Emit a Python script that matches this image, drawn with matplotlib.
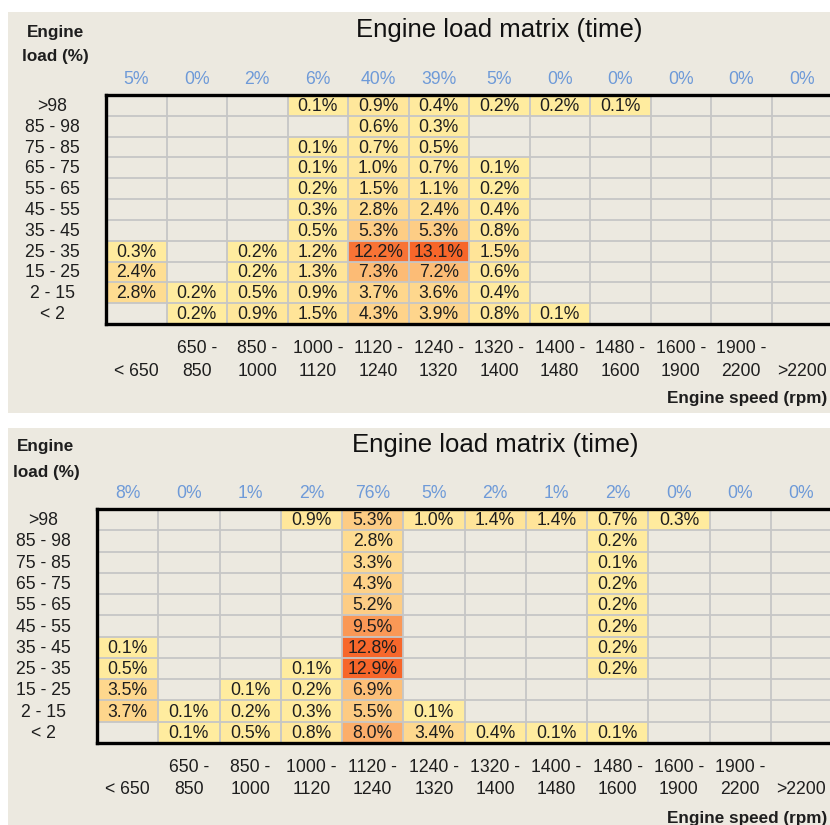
import numpy as np
import matplotlib
matplotlib.use("Agg")
import matplotlib.pyplot as plt
from matplotlib.colors import LinearSegmentedColormap, Normalize
from matplotlib.patches import Rectangle
import matplotlib.transforms as mtransforms

plt.rcParams['font.family'] = ['Liberation Sans', 'DejaVu Sans']

# ---- data -----------------------------------------------------------------
load_bins = [">98", "85 - 98", "75 - 85", "65 - 75", "55 - 65", "45 - 55",
             "35 - 45", "25 - 35", "15 - 25", "2 - 15", "< 2"]
speed_bins_top = ["", "650 -", "850 -", "1000 -", "1120 -", "1240 -", "1320 -",
                  "1400 -", "1480 -", "1600 -", "1900 -", ""]
speed_bins_bottom = ["< 650", "850", "1000", "1120", "1240", "1320", "1400",
                     "1480", "1600", "1900", "2200", ">2200"]

# time share per cell (%), rows = engine load bins, cols = engine speed bins
matrix_a = np.array([
    [0.0, 0.0, 0.0, 0.1, 0.9, 0.4, 0.2, 0.2, 0.1, 0.0, 0.0, 0.0],
    [0.0, 0.0, 0.0, 0.0, 0.6, 0.3, 0.0, 0.0, 0.0, 0.0, 0.0, 0.0],
    [0.0, 0.0, 0.0, 0.1, 0.7, 0.5, 0.0, 0.0, 0.0, 0.0, 0.0, 0.0],
    [0.0, 0.0, 0.0, 0.1, 1.0, 0.7, 0.1, 0.0, 0.0, 0.0, 0.0, 0.0],
    [0.0, 0.0, 0.0, 0.2, 1.5, 1.1, 0.2, 0.0, 0.0, 0.0, 0.0, 0.0],
    [0.0, 0.0, 0.0, 0.3, 2.8, 2.4, 0.4, 0.0, 0.0, 0.0, 0.0, 0.0],
    [0.0, 0.0, 0.0, 0.5, 5.3, 5.3, 0.8, 0.0, 0.0, 0.0, 0.0, 0.0],
    [0.3, 0.0, 0.2, 1.2, 12.2, 13.1, 1.5, 0.0, 0.0, 0.0, 0.0, 0.0],
    [2.4, 0.0, 0.2, 1.3, 7.3, 7.2, 0.6, 0.0, 0.0, 0.0, 0.0, 0.0],
    [2.8, 0.2, 0.5, 0.9, 3.7, 3.6, 0.4, 0.0, 0.0, 0.0, 0.0, 0.0],
    [0.0, 0.2, 0.9, 1.5, 4.3, 3.9, 0.8, 0.1, 0.0, 0.0, 0.0, 0.0],
])
col_share_a = [5, 0, 2, 6, 40, 39, 5, 0, 0, 0, 0, 0]

matrix_b = np.array([
    [0.0, 0.0, 0.0, 0.9, 5.3, 1.0, 1.4, 1.4, 0.7, 0.3, 0.0, 0.0],
    [0.0, 0.0, 0.0, 0.0, 2.8, 0.0, 0.0, 0.0, 0.2, 0.0, 0.0, 0.0],
    [0.0, 0.0, 0.0, 0.0, 3.3, 0.0, 0.0, 0.0, 0.1, 0.0, 0.0, 0.0],
    [0.0, 0.0, 0.0, 0.0, 4.3, 0.0, 0.0, 0.0, 0.2, 0.0, 0.0, 0.0],
    [0.0, 0.0, 0.0, 0.0, 5.2, 0.0, 0.0, 0.0, 0.2, 0.0, 0.0, 0.0],
    [0.0, 0.0, 0.0, 0.0, 9.5, 0.0, 0.0, 0.0, 0.2, 0.0, 0.0, 0.0],
    [0.1, 0.0, 0.0, 0.0, 12.8, 0.0, 0.0, 0.0, 0.2, 0.0, 0.0, 0.0],
    [0.5, 0.0, 0.0, 0.1, 12.9, 0.0, 0.0, 0.0, 0.2, 0.0, 0.0, 0.0],
    [3.5, 0.0, 0.1, 0.2, 6.9, 0.0, 0.0, 0.0, 0.0, 0.0, 0.0, 0.0],
    [3.7, 0.1, 0.2, 0.3, 5.5, 0.1, 0.0, 0.0, 0.0, 0.0, 0.0, 0.0],
    [0.0, 0.1, 0.5, 0.8, 8.0, 3.4, 0.4, 0.1, 0.1, 0.0, 0.0, 0.0],
])
col_share_b = [8, 0, 1, 2, 76, 5, 2, 1, 2, 0, 0, 0]

title = "Engine load matrix (time)"

# ---- styling --------------------------------------------------------------
W, H = 830, 825
BG = "#ECE9E0"
GRID = "#C6C6C6"
BLUE = "#6E9AD8"
TXT = "#1E1E1E"
cmap = LinearSegmentedColormap.from_list("heat", ["#FFEC9F", "#FDC57E", "#F7662A"])
cmap.set_bad((0, 0, 0, 0))

fig = plt.figure(figsize=(W / 100, H / 100), dpi=100)
fig.patch.set_facecolor("white")


def fy(y):
    return 1 - y / H


def fx(x):
    return x / W


def draw_panel(values, shares, box, grid, title_xy, ylab_x, ylab_y, share_y):
    bx0, by0, bx1, by1 = box
    fig.patches.append(Rectangle((fx(bx0), fy(by1)), fx(bx1 - bx0), (by1 - by0) / H,
                                 transform=fig.transFigure, facecolor=BG,
                                 edgecolor="none", zorder=-5))
    gl, gt, gr, gb = grid
    ax = fig.add_axes([fx(gl), fy(gb), fx(gr - gl), (gb - gt) / H])
    ax.set_facecolor(BG)
    nrows, ncols = values.shape
    data = np.ma.masked_equal(values, 0.0)
    ax.pcolormesh(np.arange(ncols + 1), np.arange(nrows + 1), data, cmap=cmap,
                  norm=Normalize(vmin=0.1, vmax=values.max()), zorder=1)
    ax.hlines(np.arange(1, nrows), 0, ncols, color=GRID, lw=1.3, zorder=2)
    ax.vlines(np.arange(1, ncols), 0, nrows, color=GRID, lw=1.3, zorder=2)
    ax.set_xlim(0, ncols)
    ax.set_ylim(nrows, 0)
    ax.set_xticks([])
    ax.set_yticks([])
    for s in ax.spines.values():
        s.set_linewidth(2.4)
        s.set_color("black")
        s.set_zorder(3)
    ax.spines["right"].set_visible(False)

    for i in range(nrows):
        for j in range(ncols):
            v = values[i, j]
            if v > 0:
                ax.text(j + 0.5, i + 0.55, f"{v:.1f}%", ha="center", va="center",
                        fontsize=12.7, color=TXT, zorder=4)

    xt = mtransforms.blended_transform_factory(ax.transData, fig.transFigure)
    yt = mtransforms.blended_transform_factory(fig.transFigure, ax.transData)
    for j in range(ncols):
        ax.text(j + 0.5, fy(share_y), f"{shares[j]}%", transform=xt, ha="center",
                va="center", fontsize=12.7, color=BLUE, clip_on=False)
        ax.text(j + 0.5, fy(gb + 24), speed_bins_top[j], transform=xt, ha="center",
                va="center", fontsize=12.7, color=TXT, clip_on=False)
        ax.text(j + 0.5, fy(gb + 47), speed_bins_bottom[j], transform=xt,
                ha="center", va="center", fontsize=12.7, color=TXT, clip_on=False)
    for i in range(nrows):
        ax.text(fx(gl - 53.5), i + 0.55, load_bins[i], transform=yt, ha="center",
                va="center", fontsize=12.7, color=TXT, clip_on=False)

    fig.text(fx(title_xy[0]), fy(title_xy[1]), title, ha="center", va="center",
             fontsize=18.5, color="#111111")
    fig.text(fx(ylab_x), fy(ylab_y[0]), "Engine", ha="center", va="center",
             fontsize=12.3, fontweight="bold", color=TXT)
    fig.text(fx(ylab_x), fy(ylab_y[1]), "load (%)", ha="center", va="center",
             fontsize=12.3, fontweight="bold", color=TXT)
    fig.text(fx(827), fy(gb + 75), "Engine speed (rpm)", ha="right", va="center",
             fontsize=12.3, fontweight="bold", color=TXT)


draw_panel(matrix_a, col_share_a, (8, 12, 830, 413), (106, 95, 832, 324),
           (499, 30), 55, (32, 57), 79)
draw_panel(matrix_b, col_share_b, (8, 428, 830, 826), (97, 509, 832, 743),
           (495, 445), 46, (446, 472), 494)

fig.savefig("out.png", dpi=100)
